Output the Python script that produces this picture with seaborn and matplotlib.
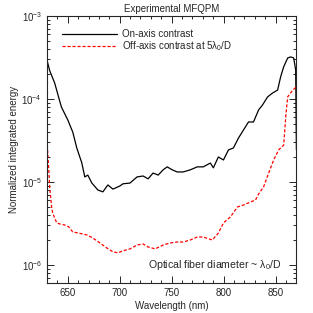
import numpy as np
import pandas as pd
import matplotlib
matplotlib.use("Agg")
import matplotlib.pyplot as plt
from matplotlib.ticker import MultipleLocator
import seaborn as sns

# on-axis contrast (black)
wl_on = [630, 632.6, 637.4, 643.9, 650, 654.8, 658.7, 663.5, 666.4, 669.3, 673.2,
         679, 683.8, 688.6, 693.5, 700.2, 703.1, 709.9, 716.7, 722.5, 727.3,
         732.1, 737, 741.8, 745.7, 750.5, 755.3, 761.1, 767.9, 774.6, 780.4,
         787.2, 790.1, 794.9, 799.8, 804.6, 809.4, 814.3, 819.1, 823.9, 828.7,
         833.6, 837.4, 842.3, 847.1, 851.9, 854.8, 857.7, 861.6, 864.5, 867.4,
         869.3, 870]
on_axis = [2.95e-4, 2.2e-4, 1.56e-4, 8.0e-5, 5.6e-5, 4.0e-5, 2.57e-5, 1.70e-5,
           1.15e-5, 1.21e-5, 9.7e-6, 8.0e-6, 7.6e-6, 9.2e-6, 8.2e-6, 8.95e-6,
           9.5e-6, 9.7e-6, 1.15e-5, 1.18e-5, 1.09e-5, 1.28e-5, 1.21e-5, 1.40e-5,
           1.52e-5, 1.40e-5, 1.32e-5, 1.32e-5, 1.40e-5, 1.52e-5, 1.52e-5,
           1.69e-5, 1.48e-5, 2.0e-5, 1.84e-5, 2.43e-5, 2.57e-5, 3.39e-5,
           4.23e-5, 5.28e-5, 5.28e-5, 7.37e-5, 8.47e-5, 1.06e-4, 1.18e-4,
           1.28e-4, 1.84e-4, 2.43e-4, 3.12e-4, 3.21e-4, 3.12e-4, 2.23e-4, 2.43e-5]

# off-axis contrast at 5 lambda/D (red dashed)
wl_off = [630, 631.6, 632.6, 634.5, 635.5, 639.4, 642.3, 647.1, 651, 654.8,
          659.7, 664.5, 668.4, 674.2, 681, 687.7, 693.5, 698.3, 703.1, 709.9,
          716.7, 722.5, 727.3, 734.1, 741.8, 748.6, 755.3, 761.1, 767.9, 774.6,
          780.4, 789.1, 795, 799.8, 806.5, 813.3, 819.1, 825.9, 830.7, 833.6,
          838.4, 843.3, 848.1, 852.9, 857.8, 859.7, 861.6, 866.5, 870]
off_axis = [3.2e-5, 1.52e-5, 8.7e-6, 5.0e-6, 4.23e-6, 3.21e-6, 3.12e-6, 3.03e-6,
            2.87e-6, 2.50e-6, 2.43e-6, 2.36e-6, 2.30e-6, 2.11e-6, 1.84e-6,
            1.60e-6, 1.44e-6, 1.40e-6, 1.48e-6, 1.56e-6, 1.74e-6, 1.79e-6,
            1.65e-6, 1.56e-6, 1.74e-6, 1.84e-6, 1.89e-6, 1.89e-6, 2.0e-6,
            2.17e-6, 2.17e-6, 2.0e-6, 2.43e-6, 3.21e-6, 3.79e-6, 5.0e-6,
            5.28e-6, 5.74e-6, 6.07e-6, 7.16e-6, 8.7e-6, 1.28e-5, 1.84e-5,
            2.43e-5, 2.79e-5, 6.07e-5, 1.06e-4, 1.28e-4, 1.40e-4]

sns.set_style("ticks")
plt.rcParams['font.family'] = ['Liberation Sans', 'DejaVu Sans']
plt.rcParams['mathtext.fontset'] = 'custom'
plt.rcParams['mathtext.rm'] = 'Liberation Sans'
plt.rcParams['mathtext.it'] = 'Liberation Sans'
plt.rcParams['font.size'] = 7

fig = plt.figure(figsize=(3.13, 3.13), dpi=100)
ax = fig.add_axes([0.150, 0.096, 0.797, 0.853])

df_on = pd.DataFrame({'wl': wl_on, 'v': on_axis})
df_off = pd.DataFrame({'wl': wl_off, 'v': off_axis})
sns.lineplot(data=df_on, x='wl', y='v', ax=ax, color='black', lw=0.9,
             label='On-axis contrast', estimator=None, sort=False)
sns.lineplot(data=df_off, x='wl', y='v', ax=ax, color='red', lw=0.9,
             label=r'Off-axis contrast at 5$\lambda_0$/D', estimator=None, sort=False)
ax.lines[1].set_dashes([2.5, 1.5])

ax.set_yscale('log')
ax.set_xlim(630, 870)
ax.set_ylim(6.07e-7, 1e-3)
ax.xaxis.set_major_locator(MultipleLocator(50))
ax.xaxis.set_minor_locator(MultipleLocator(10))
ax.tick_params(which='both', direction='in', top=True, right=True, labelsize=7, width=0.7)
ax.tick_params(which='major', length=5)
ax.tick_params(which='minor', length=2.5)
for s in ax.spines.values():
    s.set_linewidth(0.8)

ax.set_xlabel('Wavelength (nm)', fontsize=7, labelpad=2)
ax.set_ylabel('Normalized integrated energy', fontsize=7, labelpad=2)
ax.set_title('Experimental MFQPM', fontsize=7, pad=3)

leg = ax.legend(loc='upper left', bbox_to_anchor=(0.046, 0.965), frameon=False,
                handlelength=5.6, handletextpad=0.5, labelspacing=0.05, fontsize=7,
                borderaxespad=0)
for h in leg.get_lines():
    h.set_linewidth(0.9)
leg.get_lines()[1].set_dashes([2.5, 1.5])

ax.text(0.94, 0.067, r'Optical fiber diameter ~ $\lambda_0$/D', transform=ax.transAxes,
        ha='right', va='center', fontsize=7.6)

fig.savefig('out.png', dpi=100)
